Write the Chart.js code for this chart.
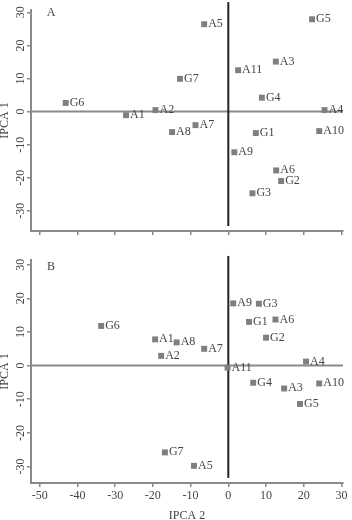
<!DOCTYPE html>
<html>
<head>
<meta charset="utf-8">
<script src="https://cdn.jsdelivr.net/npm/chart.js@4.4.1/dist/chart.umd.min.js"></script>
<style>
  html, body { margin: 0; padding: 0; background: #fff; }
  #wrap { position: relative; width: 352px; height: 520px; }
  .panel { position: absolute; left: 0; width: 352px; }
  #pa { top: 0; height: 245px; }
  #pb { top: 245px; height: 275px; }
</style>
</head>
<body>
<div id="wrap">
  <div class="panel" id="pa"><canvas id="chartA"></canvas></div>
  <div class="panel" id="pb"><canvas id="chartB"></canvas></div>
</div>
<script>
// panel A
const namesA = ['G6', 'A1', 'A2', 'A5', 'G5', 'A3', 'A11', 'G7', 'G4', 'A4', 'A7', 'A8', 'G1', 'A10', 'A9', 'A6', 'G2', 'G3'];
const xA = [-43.1, -27.1, -19.3, -6.4, 22.2, 12.6, 2.6, -12.8, 8.9, 25.5, -8.7, -14.9, 7.3, 24.1, 1.6, 12.7, 14.0, 6.4];
const yA = [2.6, -1.1, 0.45, 26.4, 27.9, 15.1, 12.5, 9.9, 4.2, 0.45, -4.1, -6.2, -6.5, -5.9, -12.3, -17.8, -21.0, -24.7];

// panel B
const namesB = ['G6', 'A1', 'A2', 'A8', 'A7', 'A9', 'G3', 'G1', 'A6', 'G2', 'A4', 'A11', 'G4', 'A3', 'A10', 'G5', 'A5', 'G7'];
const xB = [-33.7, -19.4, -17.8, -13.7, -6.4, 1.3, 8.1, 5.5, 12.5, 10.0, 20.6, -0.2, 6.6, 14.8, 24.1, 19.0, -9.1, -16.8];
const yB = [11.8, 7.8, 2.9, 6.9, 5.0, 18.5, 18.4, 13.0, 13.7, 8.3, 1.2, -0.6, -5.1, -6.8, -5.3, -11.4, -29.8, -25.8];

const xTicks = [-50, -40, -30, -20, -10, 0, 10, 20, 30];
const yTicks = [-30, -20, -10, 0, 10, 20, 30];

const xRange = [-52.3, 30.4];
const yRangeA = [-36.1, 30.7];
const yRangeB = [-34.9, 31.4];

const FONT = '"Liberation Serif", "Times New Roman", serif';
const TEXT = '#444';
const AXIS = '#8a8a8a';

const pointLabels = {
  id: 'pointLabels',
  afterDatasetsDraw(chart, args, opts) {
    const ctx = chart.ctx;
    const meta = chart.getDatasetMeta(0);
    const names = chart.data.datasets[0].names;
    ctx.save();
    ctx.font = '12px ' + FONT;
    ctx.fillStyle = TEXT;
    ctx.textBaseline = 'alphabetic';
    ctx.textAlign = 'left';
    meta.data.forEach((pt, i) => {
      ctx.fillText(names[i], pt.x + 4, pt.y + 3);
    });
    // panel letter
    ctx.textAlign = 'center';
    ctx.textBaseline = 'middle';
    ctx.fillText(opts.letter, chart.chartArea.left + 20, chart.chartArea.top + opts.dy);
    // rotated y tick labels
    const ys = chart.scales.y;
    ys.ticks.forEach(t => {
      const py = ys.getPixelForValue(t.value);
      ctx.save();
      ctx.translate(21, py);
      ctx.rotate(-Math.PI / 2);
      ctx.fillText(String(t.value), 0, 0);
      ctx.restore();
    });
    ctx.restore();
  }
};

function makeChart(id, names, xs, ys, yRange, opts) {
  const pts = xs.map((x, i) => ({ x: x, y: ys[i] }));
  return new Chart(document.getElementById(id), {
    type: 'scatter',
    data: {
      datasets: [
        {
          names: names,
          data: pts,
          pointStyle: 'rect',
          pointRadius: 4.2,
          pointHoverRadius: 4.2,
          pointBackgroundColor: '#7f7f7f',
          pointBorderWidth: 0,
          order: 0
        },
        {
          type: 'line',
          data: [{ x: xRange[0], y: 0 }, { x: xRange[1], y: 0 }],
          borderColor: '#8a8a8a',
          borderWidth: 2,
          pointRadius: 0,
          order: 2
        },
        {
          type: 'line',
          data: [{ x: 0, y: opts.vLine[0] }, { x: 0, y: opts.vLine[1] }],
          borderColor: '#222',
          borderWidth: 2,
          pointRadius: 0,
          clip: false,
          order: 1
        }
      ]
    },
    options: {
      responsive: true,
      maintainAspectRatio: false,
      animation: false,
      events: [],
      layout: { padding: { top: opts.padTop, right: 9, left: 0, bottom: 0 } },
      plugins: {
        legend: { display: false },
        tooltip: { enabled: false },
        pointLabels: { letter: opts.letter, dy: opts.letterDy }
      },
      scales: {
        x: {
          type: 'linear',
          min: xRange[0],
          max: xRange[1],
          afterBuildTicks: s => { s.ticks = xTicks.map(v => ({ value: v })); },
          afterFit: s => { s.height = opts.xHeight; },
          grid: { drawOnChartArea: false, drawTicks: true, tickLength: 4, color: AXIS, lineWidth: 1.5 },
          border: { color: AXIS, width: 2 },
          ticks: { display: opts.showX, padding: 2, color: TEXT, font: { family: FONT, size: 12 } },
          title: {
            display: opts.showX, text: 'IPCA 2', color: TEXT, padding: 0,
            font: { family: FONT, size: 12, lineHeight: 0.7 }
          }
        },
        y: {
          type: 'linear',
          min: yRange[0],
          max: yRange[1],
          afterBuildTicks: s => { s.ticks = yTicks.map(v => ({ value: v })); },
          afterFit: s => { s.width = 31; },
          grid: { drawOnChartArea: false, drawTicks: true, tickLength: 4, color: AXIS, lineWidth: 1.5 },
          border: { color: AXIS, width: 2 },
          ticks: { display: false },
          title: {
            display: true, text: 'IPCA 1', color: TEXT, padding: 0,
            font: { family: FONT, size: 12, lineHeight: 0.75 }
          }
        }
      }
    },
    plugins: [pointLabels]
  });
}

makeChart('chartA', namesA, xA, yA, yRangeA, {
  letter: 'A', letterDy: 3, padTop: 10, xHeight: 14, showX: false, vLine: [-34.6, 33.1]
});
makeChart('chartB', namesB, xB, yB, yRangeB, {
  letter: 'B', letterDy: 7, padTop: 15, xHeight: 37, showX: true, vLine: [-33.4, 32.6]
});
</script>
</body>
</html>
